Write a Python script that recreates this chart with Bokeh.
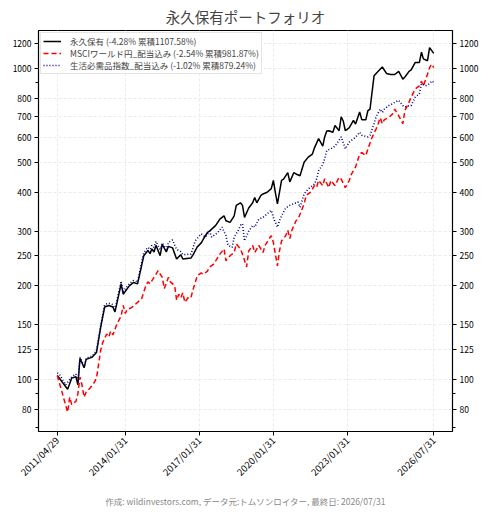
import math
import pandas as pd
from bokeh.plotting import figure
from bokeh.models import FixedTicker, DatetimeTickFormatter, NumeralTickFormatter, LogAxis, Title, Legend, LegendItem, Range1d
from bokeh.embed import file_html
from bokeh.resources import INLINE

# ---- data ----
black_dates = ["2011-04","2011-09","2011-11","2012-01","2012-02","2012-03","2012-05","2012-06","2012-09","2012-11",
"2013-01","2013-03","2013-05","2013-07","2013-08","2013-11","2013-12","2014-03","2014-05","2014-07",
"2014-10","2014-12","2015-01","2015-02","2015-03","2015-04","2015-06","2015-07","2015-09","2015-10",
"2015-12","2016-02","2016-04","2016-05","2016-09","2016-10","2016-12","2017-02","2017-03","2017-05",
"2017-06","2017-09","2017-11","2018-01","2018-02","2018-04","2018-06","2018-07","2018-09","2018-10",
"2018-11","2019-01","2019-03","2019-04","2019-05","2019-07","2019-08","2019-10","2019-12","2020-01",
"2020-02","2020-03","2020-04","2020-05","2020-06","2020-08","2020-09","2020-11","2020-12","2021-02",
"2021-04","2021-06","2021-08","2021-09","2021-11","2022-01","2022-02","2022-03","2022-04","2022-06",
"2022-07","2022-09","2022-10","2022-11","2022-12","2023-02","2023-04","2023-05","2023-07","2023-08",
"2023-10","2023-11","2023-12","2024-02","2024-03","2024-04","2024-06","2024-08","2024-10","2024-12",
"2025-02","2025-04","2025-05","2025-07","2025-08","2025-10","2025-12","2026-01","2026-02","2026-04",
"2026-05","2026-07"]
black_vals = [103,93,101,102,96,117,109,116,118,122,
147,171,173,171,165,203,188,200,205,203,
250,260,254,263,257,270,250,272,257,268,
265,244,252,244,246,252,267,275,283,297,
300,313,328,336,324,320,336,363,370,363,
332,356,370,385,370,391,395,400,411,437,
400,367,400,437,441,463,432,463,458,452,
500,519,531,556,595,563,603,630,631,624,
656,631,700,678,631,646,681,663,725,685,
685,733,740,948,965,980,1012,965,957,957,
980,925,940,980,990,1047,1047,1130,1075,1060,
1168,1119]

red_dates = ["2011-04","2011-09","2011-10","2011-11","2012-01","2012-02","2012-03","2012-04","2012-05","2012-06",
"2012-08","2012-10","2012-11","2013-01","2013-02","2013-04","2013-05","2013-06","2013-07","2013-09",
"2013-11","2013-12","2014-01","2014-02","2014-04","2014-07","2014-09","2014-11","2014-12","2015-01",
"2015-03","2015-04","2015-05","2015-07","2015-08","2015-10","2015-11","2016-01","2016-02","2016-03",
"2016-04","2016-05","2016-06","2016-08","2016-09","2016-10","2016-11","2016-12","2017-02","2017-03",
"2017-05","2017-06","2017-08","2017-10","2017-11","2018-01","2018-02","2018-04","2018-06","2018-07",
"2018-09","2018-10","2018-12","2019-01","2019-03","2019-04","2019-06","2019-08","2019-09","2019-11",
"2019-12","2020-01","2020-03","2020-04","2020-05","2020-07","2020-08","2020-09","2020-10","2020-12",
"2021-01","2021-04","2021-05","2021-07","2021-09","2021-10","2021-11","2022-01","2022-02","2022-04",
"2022-05","2022-07","2022-09","2022-10","2022-12","2023-02","2023-03","2023-05","2023-07","2023-08",
"2023-10","2023-11","2024-01","2024-03","2024-04","2024-05","2024-06","2024-07","2024-09","2024-11",
"2024-12","2025-02","2025-04","2025-05","2025-07","2025-08","2025-10","2025-12","2026-01","2026-02",
"2026-04","2026-05","2026-06","2026-07"]
red_vals = [103,78.5,87.7,83,85,90,101.7,96,87.7,91,
94,98,101,124,131,140,137,143,139,151,
160,173,163,168,170,177,182,200,206,203,
213,218,224,213,196,213,206,200,180,188,
183,190,177,185,184,195,205,216,220,218,
223,230,235,247,253,263,241,250,256,273,
263,253,230,259,270,256,270,256,270,284,
290,276,232,259,279,290,302,284,302,324,
328,367,391,400,420,414,437,420,442,414,
437,420,447,441,414,437,458,482,531,537,
525,552,601,640,665,695,665,685,695,715,
741,705,665,733,780,810,860,880,911,880,
959,1007,1033,1007]

blue_dates = ["2011-04","2011-05","2011-08","2011-11","2012-01","2012-02","2012-03","2012-05","2012-06","2012-09",
"2012-11","2013-01","2013-03","2013-05","2013-07","2013-08","2013-11","2013-12","2014-03","2014-05",
"2014-07","2014-10","2014-12","2015-01","2015-02","2015-03","2015-04","2015-06","2015-07","2015-09",
"2015-10","2015-12","2016-02","2016-04","2016-05","2016-09","2016-11","2017-02","2017-04","2017-06",
"2017-07","2017-10","2017-12","2018-02","2018-03","2018-05","2018-06","2018-08","2018-09","2018-10",
"2018-11","2019-01","2019-03","2019-04","2019-06","2019-08","2019-10","2019-12","2020-01","2020-03",
"2020-04","2020-05","2020-07","2020-09","2020-11","2021-01","2021-02","2021-04","2021-06","2021-09",
"2021-10","2021-11","2022-01","2022-02","2022-03","2022-05","2022-07","2022-09","2022-10","2022-12",
"2023-02","2023-03","2023-05","2023-07","2023-08","2023-11","2023-12","2024-02","2024-03","2024-05",
"2024-06","2024-07","2024-09","2024-11","2024-12","2025-02","2025-04","2025-05","2025-07","2025-08",
"2025-10","2025-12","2026-01","2026-03","2026-05","2026-06","2026-07"]
blue_vals = [105,104,96,102,104,98,118,110,117,119,
124,149,174,176,174,168,207,192,203,208,
206,256,266,262,270,266,278,262,275,262,
276,281,262,258,252,253,279,294,287,300,
287,297,309,290,270,266,287,302,313,317,
279,300,313,309,328,332,341,350,332,309,
324,336,356,363,368,372,358,395,410,425,
441,469,492,512,545,552,563,588,603,552,
580,588,601,624,610,603,610,665,700,741,
722,741,760,770,780,790,760,752,760,760,
810,830,894,880,894,912,903]

series_labels = ["永久保有 (-4.28% 累積1107.58%)",
                 "MSCIワールド円_配当込み (-2.54% 累積981.87%)",
                 "生活必需品指数_配当込み (-1.02% 累積879.24%)"]
x_tick_dates = ["2011-04-29","2014-01-31","2017-01-31","2020-01-31","2023-01-31","2026-07-31"]
y_ticks = [80,100,125,150,200,250,300,400,500,600,700,800,1000,1200]
y_minor = [70,90,900]
title_text = "永久保有ポートフォリオ"
footer_text = "作成: wildinvestors.com, データ元:トムソンロイター, 最終日: 2026/07/31"

FONT = "Noto Sans CJK JP"

def to_dt(ds):
    return pd.to_datetime(ds) + pd.offsets.MonthEnd(0)

xb, xr, xu = to_dt(black_dates), to_dt(red_dates), to_dt(blue_dates)
tick_ms = [pd.Timestamp(d).value / 1e6 for d in x_tick_dates]

x0 = pd.Timestamp("2010-07-26").value / 1e6
x1 = pd.Timestamp("2027-05-05").value / 1e6

p = figure(frame_width=414, frame_height=401, x_axis_type="datetime", y_axis_type="log",
           output_backend="svg", toolbar_location=None,
           x_range=Range1d(x0, x1), y_range=Range1d(68.0, 1326),
           min_border_left=38, min_border_right=29, min_border_top=30, min_border_bottom=10)

p.title.text = title_text
p.title.align = "center"
p.title.text_font = FONT
p.title.text_font_size = "14.5px"
p.title.text_font_style = "normal"
p.title.offset = 0
p.title.standoff = 7

r1 = p.line(xb, black_vals, line_color="black", line_width=1.5)
r2 = p.line(xr, red_vals, line_color="red", line_width=1.5, line_dash="5 3")
r3 = p.line(xu, blue_vals, line_color="#00008b", line_width=1.6, line_dash="1 2")

p.outline_line_color = "black"
p.outline_line_width = 1.2

xa = p.xaxis[0]
xa.ticker = FixedTicker(ticks=tick_ms)
xa.formatter = DatetimeTickFormatter(years="%Y/%m/%d", months="%Y/%m/%d", days="%Y/%m/%d")
xa.major_label_orientation = math.pi / 4
ya = p.yaxis[0]
ya.ticker = FixedTicker(ticks=y_ticks, minor_ticks=y_minor)
ya.formatter = NumeralTickFormatter(format="0")

yr = LogAxis(ticker=FixedTicker(ticks=y_ticks, minor_ticks=y_minor), formatter=NumeralTickFormatter(format="0"))
p.add_layout(yr, "right")

for ax in [xa, ya, yr]:
    ax.axis_line_color = None
    ax.major_tick_line_color = "black"
    ax.minor_tick_line_color = "black"
    ax.major_tick_out = 4
    ax.major_tick_in = 0
    ax.minor_tick_out = 3
    ax.minor_tick_in = 0
    ax.major_label_text_font = FONT
    ax.major_label_text_font_size = "8.5px"
    ax.major_label_text_color = "black"
    ax.major_label_standoff = 3
xa.minor_tick_line_color = None
xa.major_label_text_font_size = "9.5px"

p.xgrid.grid_line_color = "#ebebeb"
p.xgrid.grid_line_dash = "3 2"
p.ygrid.grid_line_color = "#ebebeb"
p.ygrid.grid_line_dash = "3 2"
p.ygrid.minor_grid_line_color = None

legend = Legend(items=[LegendItem(label=series_labels[0], renderers=[r1]),
                       LegendItem(label=series_labels[1], renderers=[r2]),
                       LegendItem(label=series_labels[2], renderers=[r3])],
                location="top_left")
legend.label_text_font = FONT
legend.label_text_font_size = "8.5px"
legend.label_height = 10
legend.glyph_height = 10
legend.glyph_width = 18
legend.spacing = 0
legend.padding = 2
legend.margin = 2
legend.border_line_color = "#cccccc"
legend.background_fill_alpha = 0.9
legend.label_standoff = 9
p.add_layout(legend)

foot = Title(text=footer_text, align="center", text_font=FONT, text_font_size="8.5px",
             text_color="#888888", text_font_style="normal", offset=0, standoff=12)
p.add_layout(foot, "below")

open("out.html", "w").write(file_html(p, INLINE))
